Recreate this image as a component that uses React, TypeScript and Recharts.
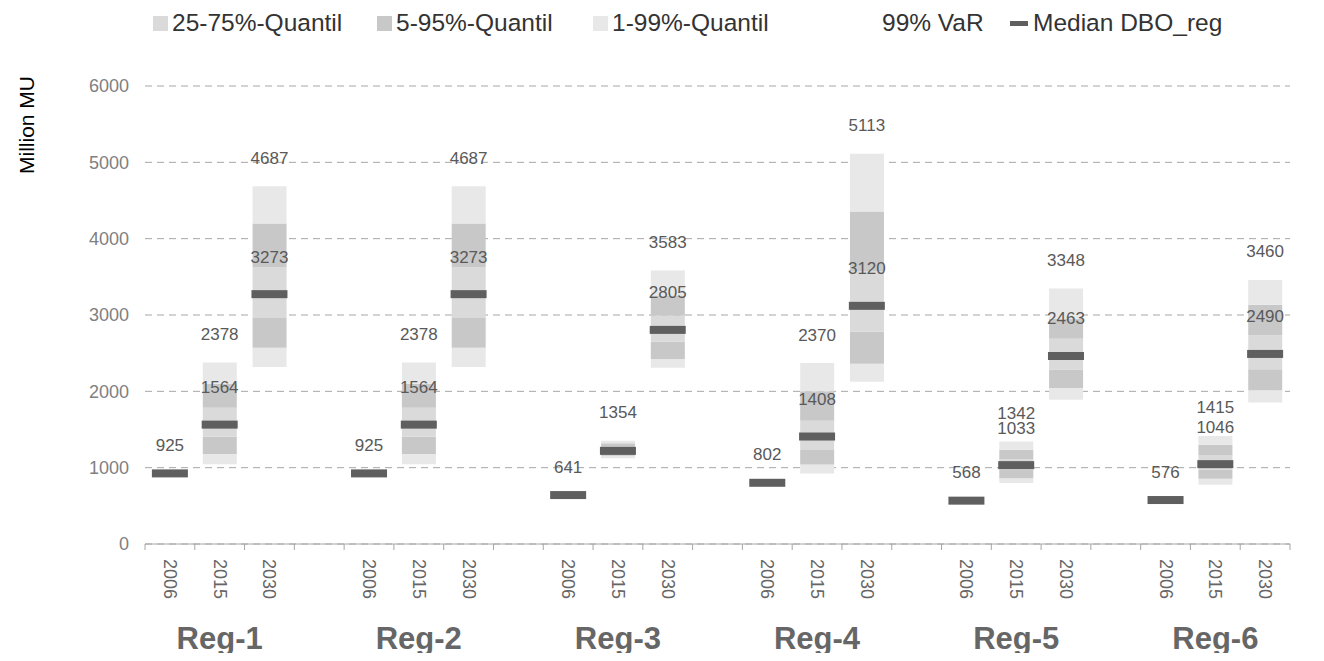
import React from 'react';
import {
  ComposedChart,
  Bar,
  Line,
  XAxis,
  YAxis,
  CartesianGrid,
  LabelList,
} from 'recharts';

const regions = ['Reg-1', 'Reg-2', 'Reg-3', 'Reg-4', 'Reg-5', 'Reg-6'];
const years = ['2006', '2015', '2030'];
const yTicks = [0, 1000, 2000, 3000, 4000, 5000, 6000];

// one value per region and year (2006, 2015, 2030)
const q01 = [null, 1045, 2320, null, 1045, 2320, null, 1125, 2310, null, 925, 2125, null, 800, 1890, null, 775, 1855];
const q05 = [null, 1180, 2570, null, 1180, 2570, null, 1155, 2425, null, 1040, 2360, null, 860, 2045, null, 855, 2015];
const q25 = [null, 1405, 2960, null, 1405, 2960, null, 1185, 2650, null, 1230, 2780, null, 975, 2285, null, 975, 2290];
const q75 = [null, 1785, 3630, null, 1785, 3630, null, 1265, 2990, null, 1615, 3570, null, 1110, 2690, null, 1160, 2735];
const q95 = [null, 2100, 4200, null, 2100, 4200, null, 1320, 3250, null, 2000, 4355, null, 1235, 2950, null, 1300, 3135];
const q99 = [null, 2378, 4687, null, 2378, 4687, null, 1354, 3583, null, 2370, 5113, null, 1342, 3348, null, 1415, 3460];
const median = [925, 1564, 3273, 925, 1564, 3273, 641, 1220, 2805, 802, 1408, 3120, 568, 1033, 2463, 576, 1046, 2490];
const var99 = [925, 2378, 4687, 925, 2378, 4687, 641, 1354, 3583, 802, 2370, 5113, 568, 1342, 3348, 576, 1415, 3460];
const medianLabels = [null, 1564, 3273, null, 1564, 3273, null, null, 2805, null, 1408, 3120, null, 1033, 2463, null, 1046, 2490];

const diff = (a: number | null, b: number | null) => (a == null || b == null ? null : a - b);

const rows: any[] = [];
regions.forEach((reg, r) => {
  years.forEach((yr, k) => {
    const i = r * 3 + k;
    rows.push({
      key: `${reg}-${yr}`,
      year: yr,
      region: k === 1 ? reg : '',
      base: q01[i],
      b1: diff(q05[i], q01[i]),
      b2: diff(q25[i], q05[i]),
      b3: diff(q75[i], q25[i]),
      b4: diff(q95[i], q75[i]),
      b5: diff(q99[i], q95[i]),
      median: median[i],
      medianLabel: medianLabels[i],
      var99: var99[i],
    });
  });
  if (r < regions.length - 1) rows.push({ key: `gap-${r}`, year: '', region: '' });
});

const W = 1308;
const H = 653;
const M = { top: 78, right: 26, bottom: 0, left: 0 };
const Y_W = 137;
const X_H = 117;
const PLOT_W = W - M.left - M.right - Y_W;
const HALF = PLOT_W / rows.length / 2;

const FONT = '"Liberation Sans", Arial, sans-serif';
const LIGHT = '#e8e8e8';
const MID = '#c8c8c8';
const INNER = '#dadada';
const DARK = '#5f5f5f';
const AXIS = '#a6a6a6';

function XTick(props: any) {
  const { x, y, payload } = props;
  const idx = payload.index;
  const row = rows[idx];
  return (
    <g>
      <line x1={x - HALF} x2={x - HALF} y1={y} y2={y + 6} stroke={AXIS} />
      {idx === rows.length - 1 && <line x1={x + HALF} x2={x + HALF} y1={y} y2={y + 6} stroke={AXIS} />}
      {row.year && (
        <text
          x={x}
          y={y + 15}
          transform={`rotate(90, ${x}, ${y + 15})`}
          textAnchor="start"
          dominantBaseline="central"
          fontSize={18}
          fill="#666"
          fontFamily={FONT}
        >
          {row.year}
        </text>
      )}
      {row.region && (
        <text x={x} y={y + 105} textAnchor="middle" fontSize={31} fontWeight="bold" fill="#666" fontFamily={FONT}>
          {row.region}
        </text>
      )}
    </g>
  );
}

const labelAbove = (off: number) => (p: any) => {
  if (p.value == null || p.y == null) return null;
  return (
    <text
      x={p.x}
      y={p.y - off}
      textAnchor="middle"
      dominantBaseline="central"
      fontSize={17}
      fill="#595959"
      fontFamily={FONT}
    >
      {p.value}
    </text>
  );
};

const MedianMark = (p: any) => {
  if (p.cx == null || p.cy == null || p.value == null) return <g key={p.key ?? p.index} />;
  return <rect key={p.key ?? p.index} x={p.cx - 18} y={p.cy - 4} width={36} height={8} fill={DARK} />;
};

const legendItems = [
  { label: '25-75%-Quantil', left: 145, color: INNER, kind: 'square' },
  { label: '5-95%-Quantil', left: 369, color: MID, kind: 'square' },
  { label: '1-99%-Quantil', left: 585, color: LIGHT, kind: 'square' },
  { label: '99% VaR', left: 874, color: 'none', kind: 'none' },
  { label: 'Median DBO_reg', left: 1002, color: DARK, kind: 'dash' },
];

export default function App() {
  return (
    <div style={{ position: 'relative', width: W, height: H, marginBottom: -8, fontFamily: FONT }}>
      {legendItems.map((it) => (
        <div
          key={it.label}
          style={{
            position: 'absolute',
            left: it.left,
            top: 0,
            height: 30,
            display: 'flex',
            alignItems: 'center',
            fontSize: 24.5,
            color: '#333',
            whiteSpace: 'nowrap',
          }}
        >
          {it.kind === 'square' && (
            <span style={{ width: 15, height: 15, background: it.color, marginRight: 4, display: 'inline-block' }} />
          )}
          {it.kind === 'dash' && (
            <span style={{ width: 18, height: 5, background: it.color, marginRight: 5, display: 'inline-block' }} />
          )}
          {it.label}
        </div>
      ))}
      <ComposedChart width={W} height={H} data={rows} margin={M} barCategoryGap={0}>
        <CartesianGrid vertical={false} stroke={AXIS} strokeDasharray="7 5" />
        <XAxis
          dataKey="key"
          interval={0}
          height={X_H}
          tickSize={0}
          tickMargin={0}
          tickLine={false}
          axisLine={{ stroke: AXIS }}
          tick={<XTick />}
        />
        <YAxis
          domain={[0, 6000]}
          ticks={yTicks}
          width={Y_W}
          axisLine={false}
          tickLine={false}
          tickSize={0}
          tickMargin={16}
          tick={{ fontSize: 18, fill: '#808080', fontFamily: FONT }}
          label={{
            value: 'Million MU',
            content: () => (
              <text
                x={18}
                y={117}
                transform="rotate(-90, 18, 117)"
                textAnchor="middle"
                dominantBaseline="central"
                fontSize={21}
                fill="#000"
                fontFamily={FONT}
              >
                Million MU
              </text>
            ),
          }}
        />
        <Bar dataKey="base" stackId="q" fill="transparent" barSize={34} isAnimationActive={false} />
        <Bar dataKey="b1" stackId="q" fill={LIGHT} barSize={34} isAnimationActive={false} />
        <Bar dataKey="b2" stackId="q" fill={MID} barSize={34} isAnimationActive={false} />
        <Bar dataKey="b3" stackId="q" fill={INNER} barSize={34} isAnimationActive={false} />
        <Bar dataKey="b4" stackId="q" fill={MID} barSize={34} isAnimationActive={false} />
        <Bar dataKey="b5" stackId="q" fill={LIGHT} barSize={34} isAnimationActive={false} />
        <Line
          dataKey="median"
          stroke="none"
          dot={MedianMark}
          activeDot={false}
          isAnimationActive={false}
        >
          <LabelList dataKey="medianLabel" content={labelAbove(37)} />
        </Line>
        <Line dataKey="var99" stroke="none" dot={false} activeDot={false} isAnimationActive={false}>
          <LabelList dataKey="var99" content={labelAbove(28)} />
        </Line>
      </ComposedChart>
    </div>
  );
}
